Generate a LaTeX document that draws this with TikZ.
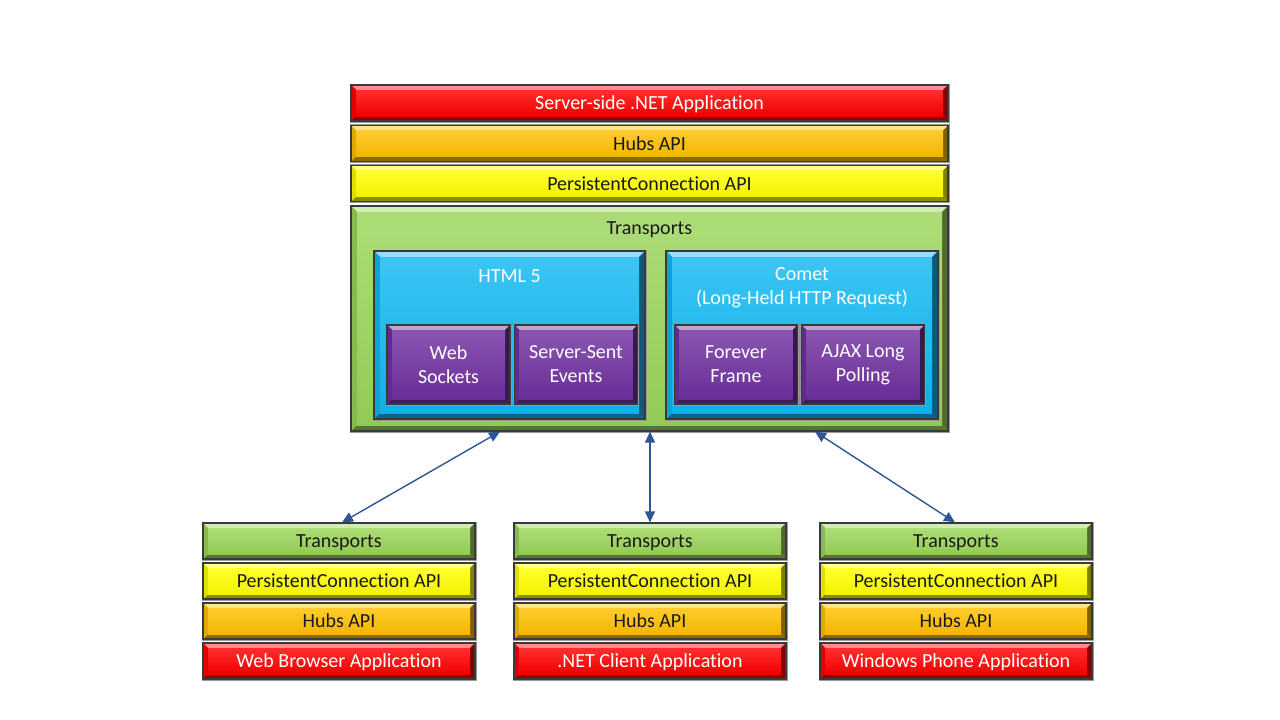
\documentclass[tikz,border=0pt]{standalone}
\usepackage{fontspec}
\setmainfont{Carlito}[Ligatures=NoCommon]
\usetikzlibrary{arrows.meta}
\definecolor{cred}{HTML}{FF0000}
\definecolor{corange}{HTML}{FFC000}
\definecolor{cyellow}{HTML}{FFFF00}
\definecolor{cgreen}{HTML}{9BD55A}
\definecolor{ccyan}{HTML}{10B8F2}
\definecolor{cpurple}{HTML}{7030A0}
\definecolor{carrow}{HTML}{2F5597}
\definecolor{cborder}{HTML}{3A3A3A}
\definecolor{ctext}{HTML}{1A1A1A}
\newcommand{\bevelpic}[2]{%
  \fill[#1!45!white] (path picture bounding box.north west) -- (path picture bounding box.north east)
     -- ([xshift=-#2,yshift=-#2]path picture bounding box.north east) -- ([xshift=#2,yshift=-#2]path picture bounding box.north west) -- cycle;
  \fill[#1!55!black] (path picture bounding box.south west) -- (path picture bounding box.south east)
     -- ([xshift=-#2,yshift=#2]path picture bounding box.south east) -- ([xshift=#2,yshift=#2]path picture bounding box.south west) -- cycle;
  \fill[#1!88!black] (path picture bounding box.north west) -- (path picture bounding box.south west)
     -- ([xshift=#2,yshift=#2]path picture bounding box.south west) -- ([xshift=#2,yshift=-#2]path picture bounding box.north west) -- cycle;
  \fill[#1!50!black] (path picture bounding box.north east) -- (path picture bounding box.south east)
     -- ([xshift=-#2,yshift=#2]path picture bounding box.south east) -- ([xshift=-#2,yshift=-#2]path picture bounding box.north east) -- cycle;
  \shade[top color=#1!82!white, bottom color=#1!95!black]
     ([xshift=#2,yshift=-#2]path picture bounding box.north west) rectangle ([xshift=-#2,yshift=#2]path picture bounding box.south east);
}
\tikzset{
  bevbox/.style={rectangle, inner sep=0pt, fill=#1, draw=cborder, line width=1.2pt,
    preaction={draw=black!40, line width=3pt},
    path picture={\bevelpic{#1}{5pt}}},
  bigbox/.style={rectangle, inner sep=0pt, fill=#1, draw=cborder, line width=1.2pt,
    preaction={draw=black!40, line width=3pt},
    path picture={\bevelpic{#1}{6pt}}},
  lbl/.style={font=\fontsize{20}{24}\selectfont, text=ctext, align=center},
  wlbl/.style={font=\fontsize{20}{24}\selectfont, text=white, align=center},
  topbar/.style={minimum width=597pt, minimum height=36pt, text depth=0pt, yshift=0pt},
  botbar/.style={minimum width=272pt, minimum height=36pt},
  purp/.style={bevbox=cpurple, minimum width=123pt, minimum height=79pt, wlbl},
  link/.style={draw=carrow, line width=1.4pt, {Triangle[length=11pt,width=10pt]}-{Triangle[length=11pt,width=10pt]}}
}
\begin{document}
\begin{tikzpicture}[x=1pt,y=-1pt]
\useasboundingbox[fill=white] (0,0) rectangle (1280,720);

% top stack
\node[bevbox=cred, topbar, wlbl] (srv) at (649.5,103) {Server-side .NET Application};
\node[bevbox=corange, topbar, lbl] (shub) at (649.5,143.5) {Hubs API};
\node[bevbox=cyellow, topbar, lbl] (spc) at (649.5,183.5) {PersistentConnection API};
\node[bigbox=cgreen, minimum width=597pt, minimum height=225pt] (big) at (649.5,318.5) {};
\node[lbl] (bigt) at (649.5,230) {Transports};

\node[bigbox=ccyan, minimum width=271pt, minimum height=168pt] (html) at (509.5,335) {};
\node[wlbl] (htmlt) at (509.5,276) {HTML 5};
\node[bigbox=ccyan, minimum width=272pt, minimum height=168pt] (comet) at (802,335) {};
\node[wlbl] (comett) at (802,288) {Comet\\(Long-Held HTTP Request)};

\node[purp] (ws) at (448.5,364.5) {Web\\Sockets};
\node[purp] (sse) at (576,364.5) {Server-Sent\\Events};
\node[purp] (ff) at (736,364.5) {Forever\\Frame};
\node[purp] (ajax) at (863,364.5) {AJAX Long\\Polling};

% bottom stacks
\foreach \cx/\nm/\app in {339/l/Web Browser Application, 650/m/.NET Client Application, 956/r/Windows Phone Application}{
  \node[bevbox=cgreen, botbar, lbl, text depth=0pt] (\nm t) at (\cx,541) {Transports};
  \node[bevbox=cyellow, botbar, lbl, text depth=0pt] (\nm p) at (\cx,581) {PersistentConnection API};
  \node[bevbox=corange, botbar, lbl, text depth=0pt] (\nm h) at (\cx,621) {Hubs API};
  \node[bevbox=cred, botbar, wlbl, text depth=0pt] (\nm a) at (\cx,661) {\app};
}

% connectors
\coordinate (c1) at ([xshift=-149.5pt]big.south);
\coordinate (c2) at ([xshift=0.5pt]big.south);
\coordinate (c3) at ([xshift=165.5pt]big.south);
\draw[link] (c1) -- ([xshift=3pt]lt.north);
\draw[link] (c2) -- (mt.north);
\draw[link] (c3) -- ([xshift=-1pt]rt.north);
\end{tikzpicture}
\end{document}
